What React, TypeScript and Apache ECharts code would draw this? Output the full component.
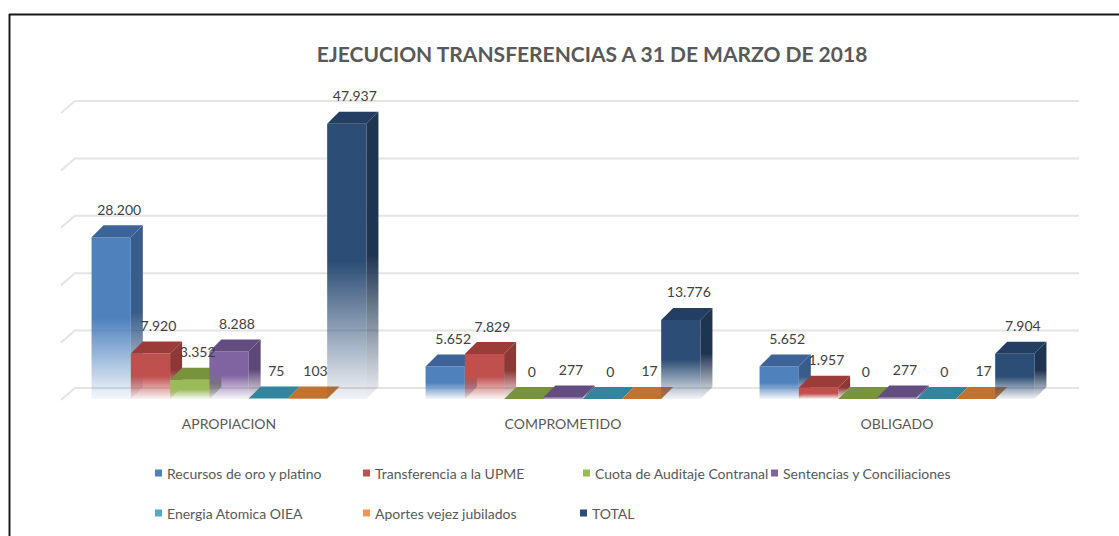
import React, { useEffect, useRef } from "react";
import * as echarts from "echarts";

const categories = ["APROPIACION", "COMPROMETIDO", "OBLIGADO"];
const seriesNames = [
  "Recursos de oro y platino",
  "Transferencia a la UPME",
  "Cuota de Auditaje Contranal",
  "Sentencias y Conciliaciones",
  "Energia Atomica OIEA",
  "Aportes vejez jubilados",
  "TOTAL",
];
const recursos = [28200, 5652, 5652];
const upme = [7920, 7829, 1957];
const cuota = [3352, 0, 0];
const sentencias = [8288, 277, 277];
const energia = [75, 0, 0];
const aportes = [103, 17, 17];
const total = [47937, 13776, 7904];
const yTicks = [0, 10000, 20000, 30000, 40000, 50000];

const seriesValues = [recursos, upme, cuota, sentencias, energia, aportes, total];

// styles
const FRONT = ["#4F81BD", "#C0504D", "#9BBB59", "#8064A2", "#4BACC6", "#F79646", "#2C4D75"];
const SIDE = ["#385D8A", "#8C3836", "#71893F", "#5C4776", "#31859C", "#B66D31", "#1E3552"];
const TOP = ["#3C6499", "#9B3C39", "#77933C", "#624C80", "#31859C", "#C0722E", "#233E61"];
const LEGEND_POS = [
  [155, 466], [363, 466], [583, 466], [771, 466],
  [155, 506], [363, 506], [580, 506],
];
const FONT = "Lato, 'Open Sans', sans-serif";
const DX = 12;
const DY = 12;
const GROUP_RATIO = 0.823;

function rgba(hex: string, a: number) {
  const n = parseInt(hex.slice(1), 16);
  return `rgba(${(n >> 16) & 255},${(n >> 8) & 255},${n & 255},${a})`;
}
function fmt(v: number) {
  return String(v).replace(/\B(?=(\d{3})+(?!\d))/g, ".");
}
function fade(hex: string) {
  return new echarts.graphic.LinearGradient(0, 0, 0, 1, [
    { offset: 0, color: hex },
    { offset: 0.5, color: hex },
    { offset: 1, color: rgba(hex, 0.06) },
  ]);
}

export default function App() {
  const ref = useRef<HTMLDivElement>(null);
  useEffect(() => {
    if (!ref.current) return;
    const chart = echarts.init(ref.current, undefined, { renderer: "svg" });
    const n = seriesNames.length;

    const barSeries = seriesNames.map((name, k) => ({
      type: "custom",
      name,
      itemStyle: { color: FRONT[k] },
      data: seriesValues[k].map((v, i) => [i, v]),
      renderItem: (params: any, api: any) => {
        const cat = api.value(0);
        const val = api.value(1);
        const top = api.coord([cat, val]);
        const base = api.coord([cat, 0]);
        const band = api.size([1, 0])[0];
        const gw = band * GROUP_RATIO;
        const w = gw / n;
        const x = top[0] - gw / 2 + k * w;
        const yT = top[1];
        const yB = base[1];
        const h = yB - yT;
        const children: any[] = [];
        if (h > 0.5) {
          children.push({
            type: "rect",
            shape: { x, y: yT, width: w, height: h },
            style: { fill: fade(FRONT[k]) },
          });
          children.push({
            type: "polygon",
            shape: {
              points: [
                [x + w, yT], [x + w + DX, yT - DY], [x + w + DX, yB - DY], [x + w, yB],
              ],
            },
            style: { fill: fade(SIDE[k]) },
          });
        }
        children.push({
          type: "polygon",
          shape: {
            points: [[x, yT], [x + DX, yT - DY], [x + w + DX, yT - DY], [x + w, yT]],
          },
          style: { fill: TOP[k] },
        });
        children.push({
          type: "text",
          z2: 100,
          style: {
            text: fmt(val),
            x: x + w / 2 + DX / 2 + 2,
            y: yT - DY - 16,
            align: "center",
            verticalAlign: "middle",
            fill: "#404040",
            font: `14px ${FONT}`,
          },
        });
        return { type: "group", children };
      },
    }));

    const gridSeries = {
      type: "custom",
      name: "grid",
      z: 1,
      silent: true,
      data: yTicks.map((v) => [0, v]),
      renderItem: (params: any, api: any) => {
        const cs = params.coordSys;
        const y = api.coord([0, api.value(1)])[1];
        return {
          type: "polyline",
          shape: {
            points: [
              [cs.x - 1, y + 1],
              [cs.x + 13, y - 11],
              [cs.x + cs.width + 15, y - 11],
            ],
          },
          style: { stroke: "#e4e4e4", lineWidth: 2, fill: null },
        };
      },
    };

    const legends = seriesNames.map((name, k) => ({
      data: [name],
      left: LEGEND_POS[k][0],
      top: LEGEND_POS[k][1],
      icon: "rect",
      itemWidth: 7,
      itemHeight: 7,
      padding: 0,
      selectedMode: false,
      textStyle: { color: "#595959", fontSize: 14, fontFamily: FONT },
    }));

    chart.setOption({
      animation: false,
      backgroundColor: "#ffffff",
      title: {
        text: "EJECUCION TRANSFERENCIAS A 31 DE MARZO DE 2018",
        left: 587,
        top: 38,
        textAlign: "center",
        textStyle: { color: "#595959", fontSize: 21, fontWeight: "bold", fontFamily: FONT },
      },
      legend: legends,
      grid: { left: 62, right: 55, top: 112, bottom: 137 },
      xAxis: {
        type: "category",
        data: categories,
        axisLine: { show: false },
        axisTick: { show: false },
        axisLabel: { color: "#595959", fontSize: 14, fontFamily: FONT, margin: 17 },
      },
      yAxis: {
        type: "value",
        min: 0,
        max: 50000,
        interval: 10000,
        show: false,
        splitLine: { show: false },
      },
      graphic: [
        { type: "line", shape: { x1: 9, y1: 14.5, x2: 1119, y2: 14.5 }, style: { stroke: "#1a1a1a", lineWidth: 2 } },
        { type: "line", shape: { x1: 9.5, y1: 14, x2: 9.5, y2: 536 }, style: { stroke: "#1a1a1a", lineWidth: 2 } },
      ],
      series: [gridSeries, ...barSeries],
    });
    return () => chart.dispose();
  }, []);
  return (
    <div
      ref={ref}
      style={{ position: "fixed", left: 0, top: 0, width: 1119, height: 536, background: "#fff" }}
    />
  );
}
